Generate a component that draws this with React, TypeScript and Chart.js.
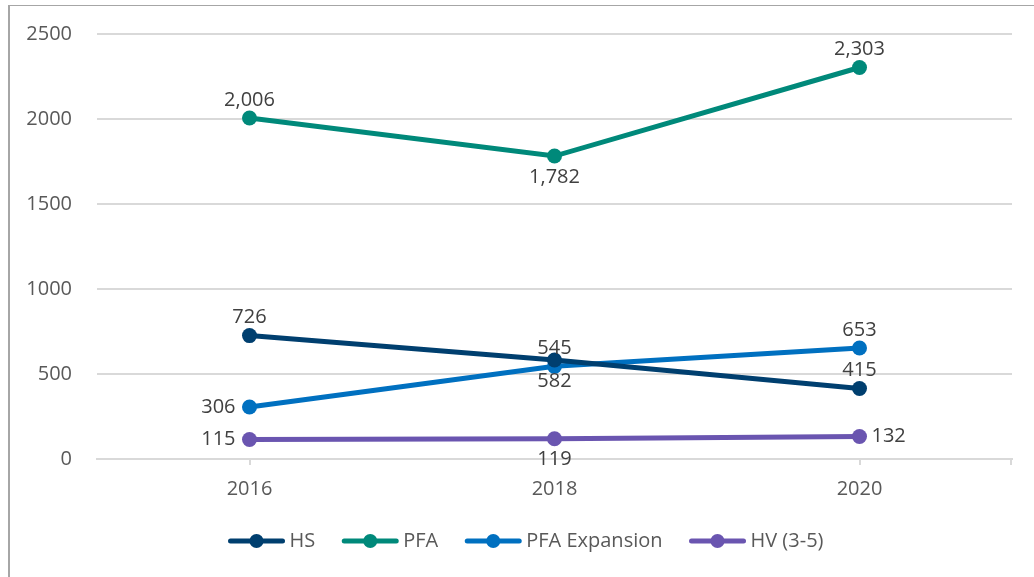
import React, { useEffect, useRef } from "react";
import { Chart, registerables } from "chart.js";

Chart.register(...registerables);

const years = ["2016", "2018", "2020"];
const seriesNames = ["HS", "PFA", "PFA Expansion", "HV (3-5)"];
const hsValues = [726, 582, 415];
const pfaValues = [2006, 1782, 2303];
const pfaExpansionValues = [306, 545, 653];
const hvValues = [115, 119, 132];
const yTickValues = [0, 500, 1000, 1500, 2000, 2500];

// label placement per point (style, not data)
const hsLabelPos = ["above", "below", "above"];
const pfaLabelPos = ["above", "below", "above"];
const pfaExpansionLabelPos = ["left", "above", "above"];
const hvLabelPos = ["left", "below", "right"];

const colors = ["#003F6F", "#00897A", "#0070C0", "#6A55B0"];
const FONT = "'Open Sans', 'Noto Sans', sans-serif";

const fmt = (v: number) => v.toLocaleString("en-US");

const labelPlugin = {
  id: "pointLabels",
  afterDatasetsDraw(chart: any) {
    const ctx = chart.ctx;
    const positions = [hsLabelPos, pfaLabelPos, pfaExpansionLabelPos, hvLabelPos];
    ctx.save();
    ctx.font = `20px ${FONT}`;
    ctx.fillStyle = "#404040";
    chart.data.datasets.forEach((ds: any, di: number) => {
      const meta = chart.getDatasetMeta(di);
      meta.data.forEach((pt: any, i: number) => {
        const text = fmt(ds.data[i]);
        const pos = positions[di][i];
        let x = pt.x;
        let y = pt.y;
        ctx.textBaseline = "middle";
        ctx.textAlign = "center";
        if (pos === "above") y -= 18;
        else if (pos === "below") y += 21;
        else if (pos === "left") {
          ctx.textAlign = "right";
          x -= 14;
        } else if (pos === "right") {
          ctx.textAlign = "left";
          x += 12;
        }
        ctx.fillText(text, x, y);
      });
    });
    ctx.restore();
  },
};

const legendPlugin = {
  id: "lineLegend",
  afterDraw(chart: any) {
    const ctx = chart.ctx;
    ctx.save();
    ctx.font = `20px ${FONT}`;
    const lineLen = 56;
    const gapText = 5;
    const gapItem = 27;
    const widths = seriesNames.map((n) => lineLen + gapText + ctx.measureText(n).width);
    const total = widths.reduce((a, b) => a + b, 0) + gapItem * (seriesNames.length - 1);
    let x = chart.width / 2 + 4 - total / 2;
    const y = 535;
    seriesNames.forEach((name, i) => {
      ctx.strokeStyle = colors[i];
      ctx.lineWidth = 5;
      ctx.lineCap = "round";
      ctx.beginPath();
      ctx.moveTo(x + 2, y);
      ctx.lineTo(x + lineLen - 2, y);
      ctx.stroke();
      ctx.fillStyle = colors[i];
      ctx.beginPath();
      ctx.arc(x + lineLen / 2, y, 7, 0, Math.PI * 2);
      ctx.fill();
      ctx.fillStyle = "#595959";
      ctx.textAlign = "left";
      ctx.textBaseline = "middle";
      ctx.fillText(name, x + lineLen + gapText, y);
      x += widths[i] + gapItem;
    });
    // small tick at the right end of the x axis
    const ca = chart.chartArea;
    ctx.strokeStyle = "#d9d9d9";
    ctx.lineWidth = 2;
    ctx.lineCap = "butt";
    ctx.beginPath();
    ctx.moveTo(ca.right - 1, ca.bottom);
    ctx.lineTo(ca.right - 1, ca.bottom + 6);
    ctx.stroke();
    ctx.restore();
  },
};

export default function App() {
  const ref = useRef<HTMLCanvasElement | null>(null);

  useEffect(() => {
    if (!ref.current) return;
    const all = [hsValues, pfaValues, pfaExpansionValues, hvValues];
    const chart = new Chart(ref.current, {
      type: "line",
      data: {
        labels: years,
        datasets: all.map((vals, i) => ({
          label: seriesNames[i],
          data: vals,
          borderColor: colors[i],
          backgroundColor: colors[i],
          pointBackgroundColor: colors[i],
          pointBorderColor: colors[i],
          borderWidth: 5,
          pointRadius: 7.5,
          pointBorderWidth: 0,
          tension: 0,
          fill: false,
        })),
      },
      options: {
        animation: false,
        responsive: false,
        maintainAspectRatio: false,
        layout: { padding: { left: 0, right: 22, top: 28, bottom: 57 } },
        plugins: {
          legend: { display: false },
          tooltip: { enabled: false },
        },
        scales: {
          x: {
            type: "category",
            offset: true,
            grid: {
              display: true,
              offset: false,
              drawOnChartArea: false,
              drawTicks: true,
              tickLength: 6,
              color: "#d9d9d9",
              lineWidth: 2,
            },
            border: { display: true, color: "#d9d9d9", width: 2 },
            ticks: {
              color: "#595959",
              font: { family: FONT, size: 20 },
              padding: 12,
              maxRotation: 0,
            },
            afterFit: (s: any) => {
              s.height = 60;
            },
          },
          y: {
            min: 0,
            max: 2500,
            afterBuildTicks: (s: any) => {
              s.ticks = yTickValues.map((v) => ({ value: v }));
            },
            grid: {
              color: "#d9d9d9",
              lineWidth: 2,
              drawTicks: false,
            },
            border: { display: false },
            ticks: {
              color: "#595959",
              font: { family: FONT, size: 20 },
              padding: 25,
              callback: (v: any) => String(v),
            },
            afterFit: (s: any) => {
              s.width = 87;
              s.paddingTop = 0;
              s.paddingBottom = 0;
            },
          },
        },
      },
      plugins: [labelPlugin, legendPlugin],
    });
    return () => chart.destroy();
  }, []);

  return (
    <div
      style={{
        position: "absolute",
        left: 8,
        top: 5,
        width: 1026,
        height: 572,
        borderLeft: "2px solid #a6a6a6",
        borderTop: "1.5px solid #a6a6a6",
        background: "#fff",
        boxSizing: "border-box",
      }}
    >
      <canvas ref={ref} width={1024} height={570} style={{ display: "block" }} />
    </div>
  );
}
